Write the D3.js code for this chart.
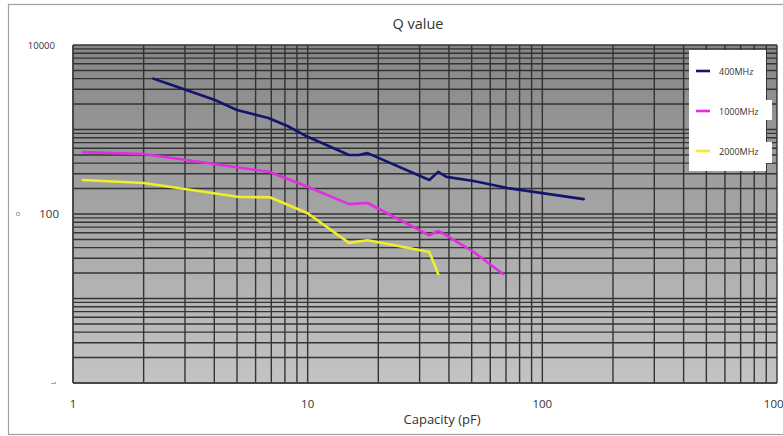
<!DOCTYPE html>
<html><head><meta charset="utf-8">
<script src="https://cdn.jsdelivr.net/npm/d3@7"></script>
<style>body{margin:0;background:#fff;}svg{display:block;font-family:"Open Sans","Noto Sans",sans-serif;}</style>
</head><body>
<script>
const seriesNames = ["400MHz", "1000MHz", "2000MHz"];
const seriesColors = ["#14146e", "#e02ee0", "#eeee2a"];
const s400 = [[2.2,4000],[2.6,3400],[4,2250],[5,1700],[6.8,1370],[8.2,1100],[10,820],[15,500],[16.5,500],[18,525],[33,253],[36,315],[39,275],[51,246],[71,203],[150,150]];
const s1000 = [[1.1,540],[2,513],[4,390],[6.9,314],[10,210],[15,131],[16.5,133],[18,135],[33,56],[36,63],[39,56],[51,35.5],[68,19.5]];
const s2000 = [[1.1,253],[2,233],[3,198],[5.1,159],[6.9,158],[10,102],[15,45.5],[18,49],[24,42],[33,35.5],[36,19.5]];
const xTickLabels = [1, 10, 100, 1000];
const yTickLabels = [10000, 100];
const title = "Q value";
const xTitle = "Capacity (pF)";

const W = 783, H = 436;
const svg = d3.select("body").append("svg").attr("width", W).attr("height", H);
const L = 73, R = 777, T = 45, B = 383;
const x = d3.scaleLog().domain([1, 1000]).range([L, R]);
const y = d3.scaleLog().domain([1, 10000]).range([B, T]);

// outer frame
svg.append("rect").attr("x", 8.5).attr("y", 4.5).attr("width", 800).attr("height", 430)
  .attr("fill", "none").attr("stroke", "#a0a0a0").attr("stroke-width", 1.2);

const defs = svg.append("defs");
const grad = defs.append("linearGradient").attr("id", "bg").attr("x1", 0).attr("y1", 0).attr("x2", 0).attr("y2", 1);
grad.append("stop").attr("offset", "0%").attr("stop-color", "#868686");
grad.append("stop").attr("offset", "100%").attr("stop-color", "#c4c4c4");
svg.append("rect").attr("x", L).attr("y", T).attr("width", R - L).attr("height", B - T).attr("fill", "url(#bg)");

const grid = svg.append("g").attr("stroke", "#2e2e2e").attr("stroke-width", 1.4).attr("opacity", 0.95);
y.ticks().forEach(v => grid.append("line").attr("x1", L).attr("x2", R).attr("y1", y(v)).attr("y2", y(v)));
x.ticks().forEach(v => grid.append("line").attr("y1", T).attr("y2", B).attr("x1", x(v)).attr("x2", x(v)));
svg.append("line").attr("x1", L).attr("x2", L).attr("y1", T).attr("y2", B).attr("stroke", "#404040").attr("stroke-width", 1.5);
svg.append("line").attr("x1", L).attr("x2", R).attr("y1", B).attr("y2", B).attr("stroke", "#404040").attr("stroke-width", 1.5);

// lines
const line = d3.line().x(d => x(d[0])).y(d => y(d[1]));
[s400, s1000, s2000].forEach((s, i) => {
  svg.append("path").datum(s).attr("d", line).attr("fill", "none")
    .attr("stroke", seriesColors[i]).attr("stroke-width", 2.6).attr("stroke-linejoin", "round").attr("stroke-linecap", "round");
});

// legend
const lg = svg.append("g").attr("fill", "#fff");
lg.append("rect").attr("x", 689).attr("y", 50).attr("width", 77).attr("height", 121);
lg.append("rect").attr("x", 765).attr("y", 100).attr("width", 7).attr("height", 20);
lg.append("rect").attr("x", 765).attr("y", 142).attr("width", 7).attr("height", 21);
seriesNames.forEach((n, i) => {
  const yy = 71 + i * 40;
  svg.append("line").attr("x1", 696).attr("x2", 710).attr("y1", yy).attr("y2", yy)
    .attr("stroke", seriesColors[i]).attr("stroke-width", 2.6);
  svg.append("text").attr("x", 719).attr("y", yy + 3.5).attr("font-size", 9).attr("fill", "#333").text(n);
});

// axis labels
xTickLabels.forEach(v => svg.append("text").attr("x", x(v)).attr("y", 408).attr("text-anchor", "middle")
  .attr("font-size", 11.5).attr("fill", "#333").text(v));
yTickLabels.forEach((v, i) => svg.append("text").attr("x", i === 0 ? 55 : 59).attr("y", y(v) + 4)
  .attr("text-anchor", "end").attr("font-size", i === 0 ? 9.5 : 11.5).attr("fill", "#333").text(v));
svg.append("text").attr("transform", `translate(51,${y(1)}) rotate(90)`).attr("text-anchor", "middle")
  .attr("font-size", 8).attr("fill", "#555").text("1");
svg.append("text").attr("x", 18).attr("y", 216).attr("text-anchor", "middle").attr("font-size", 8).attr("fill", "#777").text("o");

svg.append("text").attr("x", 418).attr("y", 29).attr("text-anchor", "middle").attr("font-size", 14.5).attr("fill", "#333").text(title);
svg.append("text").attr("x", 442).attr("y", 424).attr("text-anchor", "middle").attr("font-size", 13).attr("fill", "#333").text(xTitle);
</script>
</body></html>
